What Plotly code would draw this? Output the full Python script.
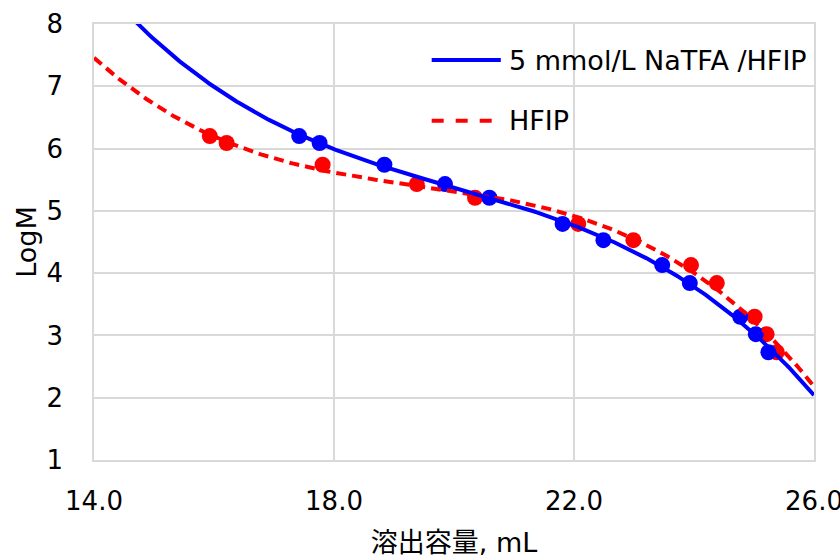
import numpy as np
import plotly.graph_objects as go

# Elution volume (mL) and LogM of the calibration standards
naTFA_volume = [17.42, 17.76, 18.84, 19.85, 20.59, 21.81, 22.49, 23.47, 23.93, 24.77, 25.03, 25.24]
naTFA_logM = [6.20, 6.09, 5.74, 5.43, 5.21, 4.79, 4.53, 4.13, 3.84, 3.30, 3.02, 2.73]

hfip_volume = [15.93, 16.21, 17.81, 19.38, 20.35, 22.07, 22.99, 23.95, 24.38, 25.01, 25.21, 25.38]
hfip_logM = [6.20, 6.09, 5.74, 5.43, 5.21, 4.79, 4.53, 4.13, 3.84, 3.30, 3.02, 2.73]

series_names = ["5 mmol/L NaTFA /HFIP", "HFIP"]
x_ticks = [14.0, 18.0, 22.0, 26.0]
x_tick_text = ["14.0", "18.0", "22.0", "26.0"]
y_ticks = [1, 2, 3, 4, 5, 6, 7, 8]

BLUE = "#0000ff"
RED = "#ff0000"
GRID = "#d9d9d9"
FONT = "DejaVu Sans, Verdana, sans-serif"

# Cubic calibration curves fitted to each set of standards
grid = np.linspace(14.0, 26.0, 400)
blue_fit = np.polyval(np.polyfit(naTFA_volume, naTFA_logM, 3), grid)
red_fit = np.polyval(np.polyfit(hfip_volume, hfip_logM, 3), grid)

fig = go.Figure()
fig.add_trace(go.Scatter(x=hfip_volume, y=hfip_logM, mode="markers",
                         marker=dict(color=RED, size=16), showlegend=False))
fig.add_trace(go.Scatter(x=naTFA_volume, y=naTFA_logM, mode="markers",
                         marker=dict(color=BLUE, size=16), showlegend=False))
fig.add_trace(go.Scatter(x=grid, y=red_fit, mode="lines", name=series_names[1],
                         line=dict(color=RED, width=4, dash="10px,6px"), showlegend=False))
fig.add_trace(go.Scatter(x=grid, y=blue_fit, mode="lines", name=series_names[0],
                         line=dict(color=BLUE, width=4), showlegend=False))

# Legend drawn as line samples with text labels
legend_rows = [(series_names[0], BLUE, "solid", 0.9174), (series_names[1], RED, "dash", 0.7782)]
for label, color, dash, ypos in legend_rows:
    fig.add_shape(type="line", xref="paper", yref="paper", x0=0.469, x1=0.565, y0=ypos, y1=ypos,
                  line=dict(color=color, width=4, dash=dash))
    fig.add_annotation(xref="paper", yref="paper", x=0.574, y=ypos, text=label, showarrow=False,
                       xanchor="left", yanchor="middle", font=dict(family=FONT, size=27, color="#000000"))

fig.update_layout(
    width=840, height=558,
    margin=dict(l=94, r=26, t=24, b=98),
    paper_bgcolor="white", plot_bgcolor="white",
    font=dict(family=FONT, size=26, color="#000000"),
    showlegend=False,
)
fig.update_xaxes(range=[14, 26], tickvals=x_ticks, ticktext=x_tick_text, automargin=False,
                 ticklabeloverflow="allow",
                 showgrid=True, gridcolor=GRID, gridwidth=1.5, zeroline=False,
                 showline=True, linecolor=GRID, linewidth=1.5, mirror=True,
                 ticks="", ticklabelstandoff=17,
                 title=dict(text="溶出容量, mL", font=dict(family="DejaVu Sans, Noto Sans CJK JP", size=27), standoff=27))
fig.update_yaxes(range=[1, 8], tickvals=y_ticks, automargin=False,
                 showgrid=True, gridcolor=GRID, gridwidth=1.5, zeroline=False,
                 showline=True, linecolor=GRID, linewidth=1.5, mirror=True,
                 ticks="", ticklabelstandoff=24,
                 title=dict(text="LogM", font=dict(family=FONT, size=27), standoff=2))

fig.write_html("out.html")
